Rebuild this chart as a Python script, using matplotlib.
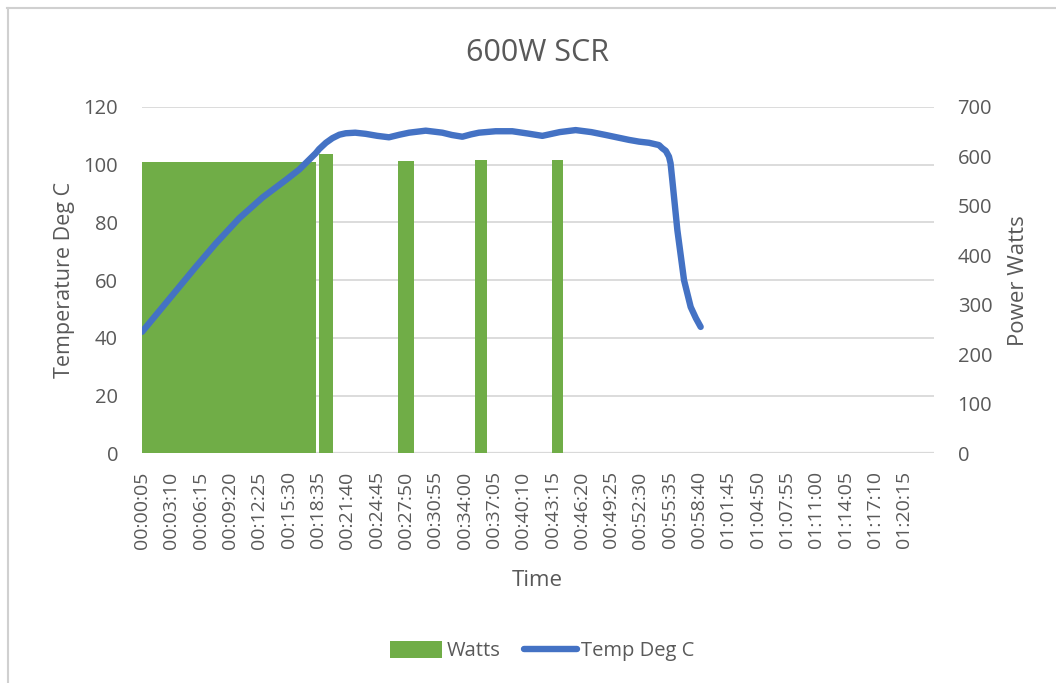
import matplotlib
matplotlib.use("Agg")
import matplotlib.pyplot as plt
from matplotlib.lines import Line2D
from matplotlib.patches import Patch

# ----------------------------
# Data
# ----------------------------
# x tick labels shown on the category axis (every 37th row, rows are 5 s apart)
tick_labels = [
    "00:00:05", "00:03:10", "00:06:15", "00:09:20", "00:12:25", "00:15:30",
    "00:18:35", "00:21:40", "00:24:45", "00:27:50", "00:30:55", "00:34:00",
    "00:37:05", "00:40:10", "00:43:15", "00:46:20", "00:49:25", "00:52:30",
    "00:55:35", "00:58:40", "01:01:45", "01:04:50", "01:07:55", "01:11:00",
    "01:14:05", "01:17:10", "01:20:15",
]

# heater on-periods (first and last sample time) and power in W
on_start = ["00:00:05", "00:18:45", "00:27:05", "00:35:10", "00:43:15"]
on_end = ["00:18:20", "00:20:10", "00:28:40", "00:36:20", "00:44:20"]
on_watts = [589, 604, 591, 593, 593]

# temperature trace: time [s] and temperature [deg C]
temp_time_s = [5, 133, 344, 470, 617, 764, 912, 996, 1101, 1122,
               1165, 1206, 1250, 1290, 1350, 1416, 1490, 1563, 1630, 1690,
               1795, 1900, 1960, 2026, 2080, 2131, 2236, 2341, 2440, 2531,
               2640, 2741, 2840, 2931, 3078, 3141, 3204, 3267, 3288, 3310,
               3330, 3340, 3351, 3383, 3425, 3467, 3500, 3530]
temp_degc = [42.1, 50.6, 64.6, 72.7, 81.4, 88.6, 94.7, 98.3, 104.0, 105.4,
             107.6, 109.2, 110.4, 110.9, 111.1, 110.7, 110.0, 109.5, 110.4, 111.1,
             111.8, 111.1, 110.3, 109.7, 110.5, 111.1, 111.6, 111.6, 110.8, 110.0,
             111.3, 112.0, 111.3, 110.3, 108.6, 108.0, 107.6, 106.8, 105.7, 104.8,
             102.8, 100.5, 94.7, 77.3, 60.0, 50.7, 46.8, 43.8]

# ----------------------------
# Helpers
# ----------------------------
def to_sec(s):
    h, m, sec = s.split(":")
    return int(h) * 3600 + int(m) * 60 + int(sec)


GREEN = "#70AD47"
BLUE = "#4472C4"
GRID = "#D9D9D9"
TEXT = "#595959"
FONT = "Open Sans"
STEP = 5  # seconds per row

plt.rcParams["font.family"] = [FONT, "DejaVu Sans"]

W, H = 1056, 683
fig = plt.figure(figsize=(W / 100, H / 100), dpi=100)
ax = fig.add_axes([141.7 / W, 1 - 453.3 / H, (934 - 141.7) / W, (453.3 - 107) / H])
ax2 = ax.twinx()

T_MAX, P_MAX = 120, 700
temp_ticks = list(range(0, T_MAX + 1, 20))

# gridlines of the primary axis, drawn on the power axis so bars cover them
for t in temp_ticks:
    ax2.axhline(t * P_MAX / T_MAX, color=GRID, linewidth=1.6 if t == 0 else 1.3, zorder=0)

# bars on the secondary (power) axis
starts = [to_sec(s) - STEP / 2 for s in on_start]
widths = [to_sec(e) - to_sec(s) + STEP for s, e in zip(on_start, on_end)]
ax2.bar(starts, on_watts, width=widths, align="edge", color=GREEN, linewidth=0, zorder=2)

# temperature line on primary axis, drawn above the bars
ax.set_zorder(ax2.get_zorder() + 1)
ax.patch.set_visible(False)
ax.plot(temp_time_s, temp_degc, color=BLUE, linewidth=4.6,
        solid_capstyle="round", solid_joinstyle="round", zorder=3)

xmin, xmax = STEP / 2, 1000 * STEP + STEP / 2
for a in (ax, ax2):
    a.set_xlim(xmin, xmax)
    for sp in a.spines.values():
        sp.set_visible(False)

ax.set_ylim(0, T_MAX)
ax.set_yticks(temp_ticks)
ax2.set_ylim(0, P_MAX)
ax2.set_yticks(range(0, P_MAX + 1, 100))

ax.set_xticks([to_sec(s) for s in tick_labels])
ax.set_xticklabels(tick_labels, rotation=90)
ax.tick_params(axis="x", length=0, pad=13, labelsize=14, colors=TEXT)
ax.tick_params(axis="y", length=0, pad=17, labelsize=14.5, colors=TEXT)
ax2.tick_params(axis="y", length=0, pad=17, labelsize=14.5, colors=TEXT)

ax.set_ylabel("Temperature Deg C", fontsize=15.5, color=TEXT)
ax.yaxis.set_label_coords(-0.084, 0.5)
ax2.set_ylabel("Power Watts", fontsize=16, color=TEXT)
ax2.yaxis.set_label_coords(1.094, 0.5)
ax.set_xlabel("Time", fontsize=16, color=TEXT)
ax.xaxis.set_label_coords(0.499, -0.337)

fig.text(537 / W, 1 - 53 / H, "600W SCR", ha="center", va="center",
         fontsize=22, color=TEXT)

handles = [Patch(facecolor=GREEN, edgecolor="none", label="Watts"),
           Line2D([], [], color=BLUE, linewidth=4.6, solid_capstyle="round",
                  label="Temp Deg C")]
fig.legend(handles=handles, loc="center", bbox_to_anchor=(542 / W, 1 - 651 / H),
           ncol=2, frameon=False, fontsize=14.5, labelcolor=TEXT,
           handlelength=2.6, handleheight=0.9, columnspacing=1.2, handletextpad=0.2)

# light frame of the chart object
fig.add_artist(Line2D([7 / W, 1], [1 - 7.5 / H, 1 - 7.5 / H], color="#D0D0D0", linewidth=1.5))
fig.add_artist(Line2D([7.5 / W, 7.5 / W], [0, 1 - 7.5 / H], color="#D0D0D0", linewidth=1.5))

fig.savefig("out.png", dpi=100)
